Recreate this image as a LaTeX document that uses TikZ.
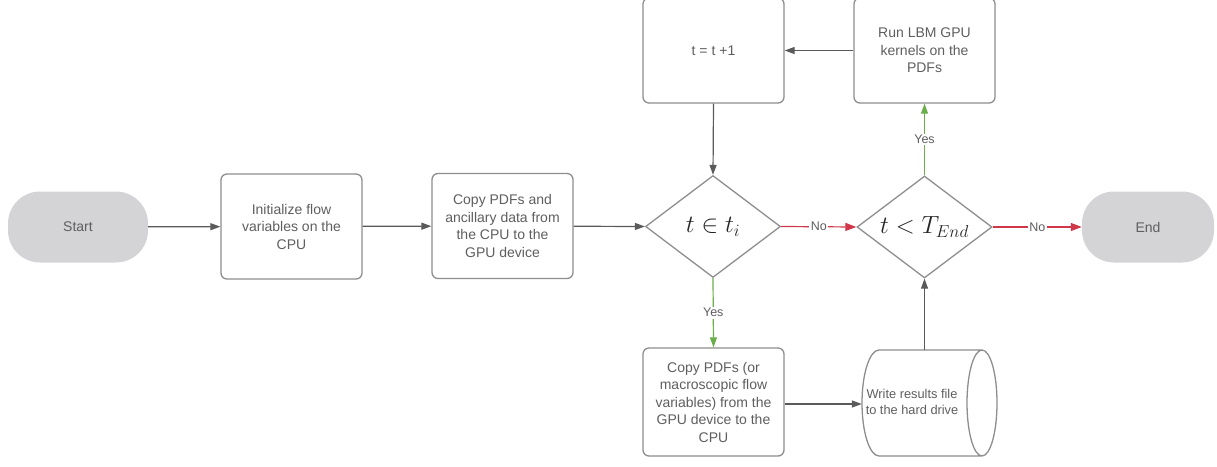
\documentclass[tikz,border=0pt]{standalone}
\usepackage{fontspec}
\setmainfont{Liberation Sans}
\usetikzlibrary{shapes.geometric,arrows.meta}
\definecolor{bordergray}{HTML}{8E8E8E}
\definecolor{textgray}{HTML}{5E5E5E}
\definecolor{termfill}{HTML}{D4D4D7}
\definecolor{linegray}{HTML}{5A5A5A}
\definecolor{nored}{HTML}{D0384A}
\definecolor{yesgreen}{HTML}{6AAF4A}
\begin{document}
\begin{tikzpicture}[x=1pt,y=-1pt,
  every node/.style={text=textgray},
  txt/.style={font=\fontsize{14}{17.5}\selectfont, align=center},
  procbox/.style={txt, rectangle, rounded corners=6pt, draw=bordergray, line width=1.3pt,
    minimum width=141pt, minimum height=105pt, inner sep=0pt},
  term/.style={txt, rectangle, rounded corners=32pt, fill=termfill,
    minimum height=71pt, inner sep=0pt},
  decision/.style={diamond, draw=bordergray, line width=1.3pt, aspect=1.32,
    minimum width=135pt, minimum height=102pt, inner sep=0pt, text=black!85,
    font=\fontsize{24}{28}\selectfont},
  flow/.style={draw=linegray, line width=1.2pt, -{Triangle[length=10pt,width=7pt]}},
  noflow/.style={draw=nored, line width=1.2pt, -{Triangle[length=11pt,width=8pt]}},
  yesflow/.style={draw=yesgreen, line width=1.2pt, -{Triangle[length=10pt,width=7pt]}},
  lbl/.style={font=\fontsize{12.5}{14}\selectfont, fill=white, inner sep=1.5pt}
]
\useasboundingbox (0,0) rectangle (1217,466);

% terminals
\node[term, minimum width=140pt] (start) at (78,227) {Start};
\node[term, minimum width=132pt] (endn) at (1148,227) {End};

% process boxes
\node[procbox] (init) at (291.5,226.5) {Initialize flow\\variables on the\\CPU};
\node[procbox] (copy1) at (502.5,226) {Copy PDFs and\\ancillary data from\\the CPU to the\\GPU device};
\node[procbox] (tt) at (713.5,50.5) {t = t +1};
\node[procbox] (run) at (924.5,50.5) {Run LBM GPU\\kernels on the\\PDFs};
\node[procbox, minimum height=108pt] (copy2) at (713.5,402) {Copy PDFs (or\\macroscopic flow\\variables) from the\\GPU device to the\\CPU};

% decisions
\node[decision] (d1) at (713,226.5) {$t \in t_i$};
\node[decision] (d2) at (924.5,227) {$t < T_{End}$};

% cylinder (stored data)
\node[minimum width=135pt, minimum height=106pt, inner sep=0pt] (cyl) at (929.5,403) {};
\draw[draw=bordergray, line width=1.3pt]
  (879,350) -- (982,350)
  (879,456) -- (982,456)
  (879,350) arc[start angle=270, end angle=90, x radius=17, y radius=53]
  (982,403) ellipse [x radius=15, y radius=53];
\node[txt, font=\fontsize{12.8}{16.5}\selectfont] (cyltext) at (912,402) {Write results file\\to the hard drive};

% connectors
\draw[flow] (start) -- (init);
\draw[flow] (init) -- (copy1);
\draw[flow] (copy1) -- (d1.west);
\draw[flow] (tt.south) -- (d1.north);
\draw[flow] (run.west) -- (tt.east);
\draw[flow] (copy2.east |- 0,404) coordinate (c2e) -- (c2e -| cyl.west);
\draw[flow] (cyl.north -| d2.south) -- (d2.south);
\draw[noflow] (d1.east) -- node[lbl] {No} (d2.west);
\draw[noflow] (d2.east) -- node[lbl] {No} (endn.west);
\draw[yesflow] (d1.south) -- node[lbl] {Yes} (copy2.north);
\draw[yesflow] (d2.north) -- node[lbl] {Yes} (run.south);
\end{tikzpicture}
\end{document}
